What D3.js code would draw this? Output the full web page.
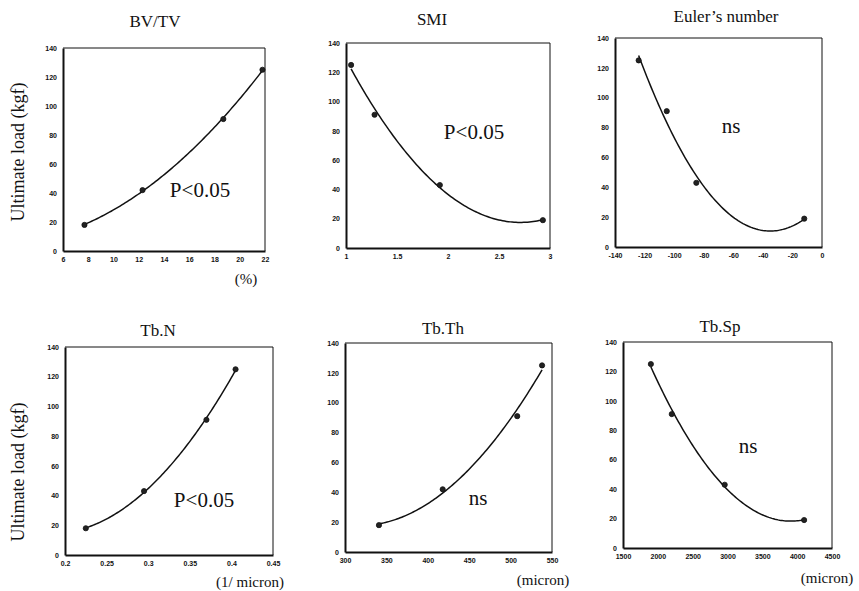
<!DOCTYPE html>
<html>
<head>
<meta charset="utf-8">
<script src="https://cdn.jsdelivr.net/npm/d3@7"></script>
<style>
  body { margin: 0; background: #fff; }
</style>
</head>
<body>
<div id="chart"></div>
<script>
// ---- data ----
var titles = ["BV/TV", "SMI", "Euler\u2019s number", "Tb.N", "Tb.Th", "Tb.Sp"];
var bvtvX  = [7.7, 12.3, 18.7, 21.8];
var smiX   = [1.05, 1.28, 1.92, 2.93];
var eulerX = [-124, -105, -85, -12];
var tbnX   = [0.225, 0.295, 0.37, 0.405];
var tbthX  = [341, 418, 508, 538];
var tbspX  = [1900, 2200, 2960, 4100];
var loadBVTV  = [18, 42, 91, 125];
var loadSMI   = [125, 91, 43, 19];
var loadEuler = [125, 91, 43, 19];
var loadTbN   = [18, 43, 91, 125];
var loadTbTh  = [18, 42, 91, 125];
var loadTbSp  = [125, 91, 43, 19];
var xDomains = [[6, 22], [1, 3], [-140, 0], [0.2, 0.45], [300, 550], [1500, 4500]];
var xTicks = [
  [6, 8, 10, 12, 14, 16, 18, 20, 22],
  [1, 1.5, 2, 2.5, 3],
  [-140, -120, -100, -80, -60, -40, -20, 0],
  [0.2, 0.25, 0.3, 0.35, 0.4, 0.45],
  [300, 350, 400, 450, 500, 550],
  [1500, 2000, 2500, 3000, 3500, 4000, 4500]
];
var yTicks = [0, 20, 40, 60, 80, 100, 120, 140];
var stats = ["P<0.05", "P<0.05", "ns", "P<0.05", "ns", "ns"];
var units = ["(%)", "", "", "(1/ micron)", "(micron)", "(micron)"];

var xs = [bvtvX, smiX, eulerX, tbnX, tbthX, tbspX];
var ys = [loadBVTV, loadSMI, loadEuler, loadTbN, loadTbTh, loadTbSp];

var SERIF = "'Liberation Serif', 'DejaVu Serif', serif";
var SANS = "'Liberation Sans', Arial, sans-serif";

// ---- layout ----
var W = 859, H = 591;
var frames = [
  {x0: 63,  y0: 48,  x1: 265, y1: 251, tx: 155, ty: 27,  sx: 200, sy: 197, ux: 246, uy: 284},
  {x0: 346, y0: 43,  x1: 550, y1: 248, tx: 432, ty: 25,  sx: 474, sy: 139, ux: 0,   uy: 0},
  {x0: 615, y0: 38,  x1: 822, y1: 247, tx: 726, ty: 22,  sx: 731, sy: 133, ux: 0,   uy: 0},
  {x0: 65,  y0: 347, x1: 273, y1: 555, tx: 158, ty: 336, sx: 204, sy: 507, ux: 250, uy: 587},
  {x0: 345, y0: 343, x1: 552, y1: 552, tx: 443, ty: 334, sx: 478, sy: 505, ux: 543, uy: 585},
  {x0: 623, y0: 342, x1: 832, y1: 548, tx: 720, ty: 332, sx: 748, sy: 453, ux: 827, uy: 583}
];

var svg = d3.select("#chart").append("svg")
    .attr("width", W)
    .attr("height", H);

// least squares quadratic fit
function quadFit(x, y) {
  var n = x.length, s = [0, 0, 0, 0, 0], t = [0, 0, 0];
  for (var i = 0; i < n; i++) {
    for (var k = 0; k < 5; k++) s[k] += Math.pow(x[i], k);
    for (var k = 0; k < 3; k++) t[k] += y[i] * Math.pow(x[i], k);
  }
  var A = [[s[0], s[1], s[2], t[0]], [s[1], s[2], s[3], t[1]], [s[2], s[3], s[4], t[2]]];
  for (var c = 0; c < 3; c++) {
    for (var r = c + 1; r < 3; r++) {
      var f = A[r][c] / A[c][c];
      for (var k = c; k < 4; k++) A[r][k] -= f * A[c][k];
    }
  }
  var b = [0, 0, 0];
  for (var r = 2; r >= 0; r--) {
    var v = A[r][3];
    for (var k = r + 1; k < 3; k++) v -= A[r][k] * b[k];
    b[r] = v / A[r][r];
  }
  return function(v) { return b[0] + b[1] * v + b[2] * v * v; };
}

frames.forEach(function(f, i) {
  var x = d3.scaleLinear().domain(xDomains[i]).range([f.x0, f.x1]);
  var y = d3.scaleLinear().domain([0, 140]).range([f.y1, f.y0]);
  var g = svg.append("g");

  // frame: heavier left / bottom
  g.append("line").attr("x1", f.x0).attr("x2", f.x1).attr("y1", f.y0).attr("y2", f.y0)
    .attr("stroke", "#111").attr("stroke-width", 1);
  g.append("line").attr("x1", f.x1).attr("x2", f.x1).attr("y1", f.y0).attr("y2", f.y1)
    .attr("stroke", "#111").attr("stroke-width", 1);

  var gx = g.append("g")
      .attr("transform", "translate(0," + f.y1 + ")")
      .call(d3.axisBottom(x).tickValues(xTicks[i]).tickSize(0).tickPadding(6)
        .tickFormat(function(d) { return String(+d.toFixed(2)); }));
  var gy = g.append("g")
      .attr("transform", "translate(" + f.x0 + ",0)")
      .call(d3.axisLeft(y).tickValues(yTicks).tickSize(0).tickPadding(6));
  [gx, gy].forEach(function(a) {
    a.attr("font-family", SANS).attr("font-size", 7).attr("font-weight", "bold");
    a.selectAll("text").attr("fill", "#111");
    a.select(".domain").attr("stroke", "#111").attr("stroke-width", 2);
  });

  // fitted curve
  var fit = quadFit(xs[i], ys[i]);
  var ext = d3.extent(xs[i]);
  var pts = d3.range(0, 101).map(function(k) {
    var v = ext[0] + (ext[1] - ext[0]) * k / 100;
    return [v, fit(v)];
  });
  g.append("path")
      .datum(pts)
      .attr("fill", "none")
      .attr("stroke", "#111")
      .attr("stroke-width", 1.5)
      .attr("d", d3.line().x(function(d) { return x(d[0]); }).y(function(d) { return y(d[1]); }));

  g.selectAll(".dot")
      .data(xs[i].map(function(v, j) { return [v, ys[i][j]]; }))
    .enter().append("circle")
      .attr("class", "dot")
      .attr("r", 2.6)
      .attr("cx", function(d) { return x(d[0]); })
      .attr("cy", function(d) { return y(d[1]); })
      .attr("fill", "#222")
      .attr("stroke", "#111")
      .attr("stroke-width", 0.8);

  g.append("text")
      .attr("x", f.tx).attr("y", f.ty)
      .attr("text-anchor", "middle")
      .attr("font-family", SERIF).attr("font-size", 17).attr("fill", "#111")
      .text(titles[i]);

  g.append("text")
      .attr("x", f.sx).attr("y", f.sy)
      .attr("text-anchor", "middle")
      .attr("font-family", SERIF).attr("font-size", 21).attr("fill", "#111")
      .text(stats[i]);

  if (units[i]) {
    g.append("text")
        .attr("x", f.ux).attr("y", f.uy)
        .attr("text-anchor", "middle")
        .attr("font-family", SERIF).attr("font-size", 15).attr("fill", "#111")
        .text(units[i]);
  }
});

// y axis titles
[152, 472].forEach(function(cy) {
  svg.append("text")
      .attr("transform", "translate(24," + cy + ") rotate(-90)")
      .attr("text-anchor", "middle")
      .attr("font-family", SERIF).attr("font-size", 18).attr("fill", "#111")
      .text("Ultimate load (kgf)");
});
</script>
</body>
</html>
